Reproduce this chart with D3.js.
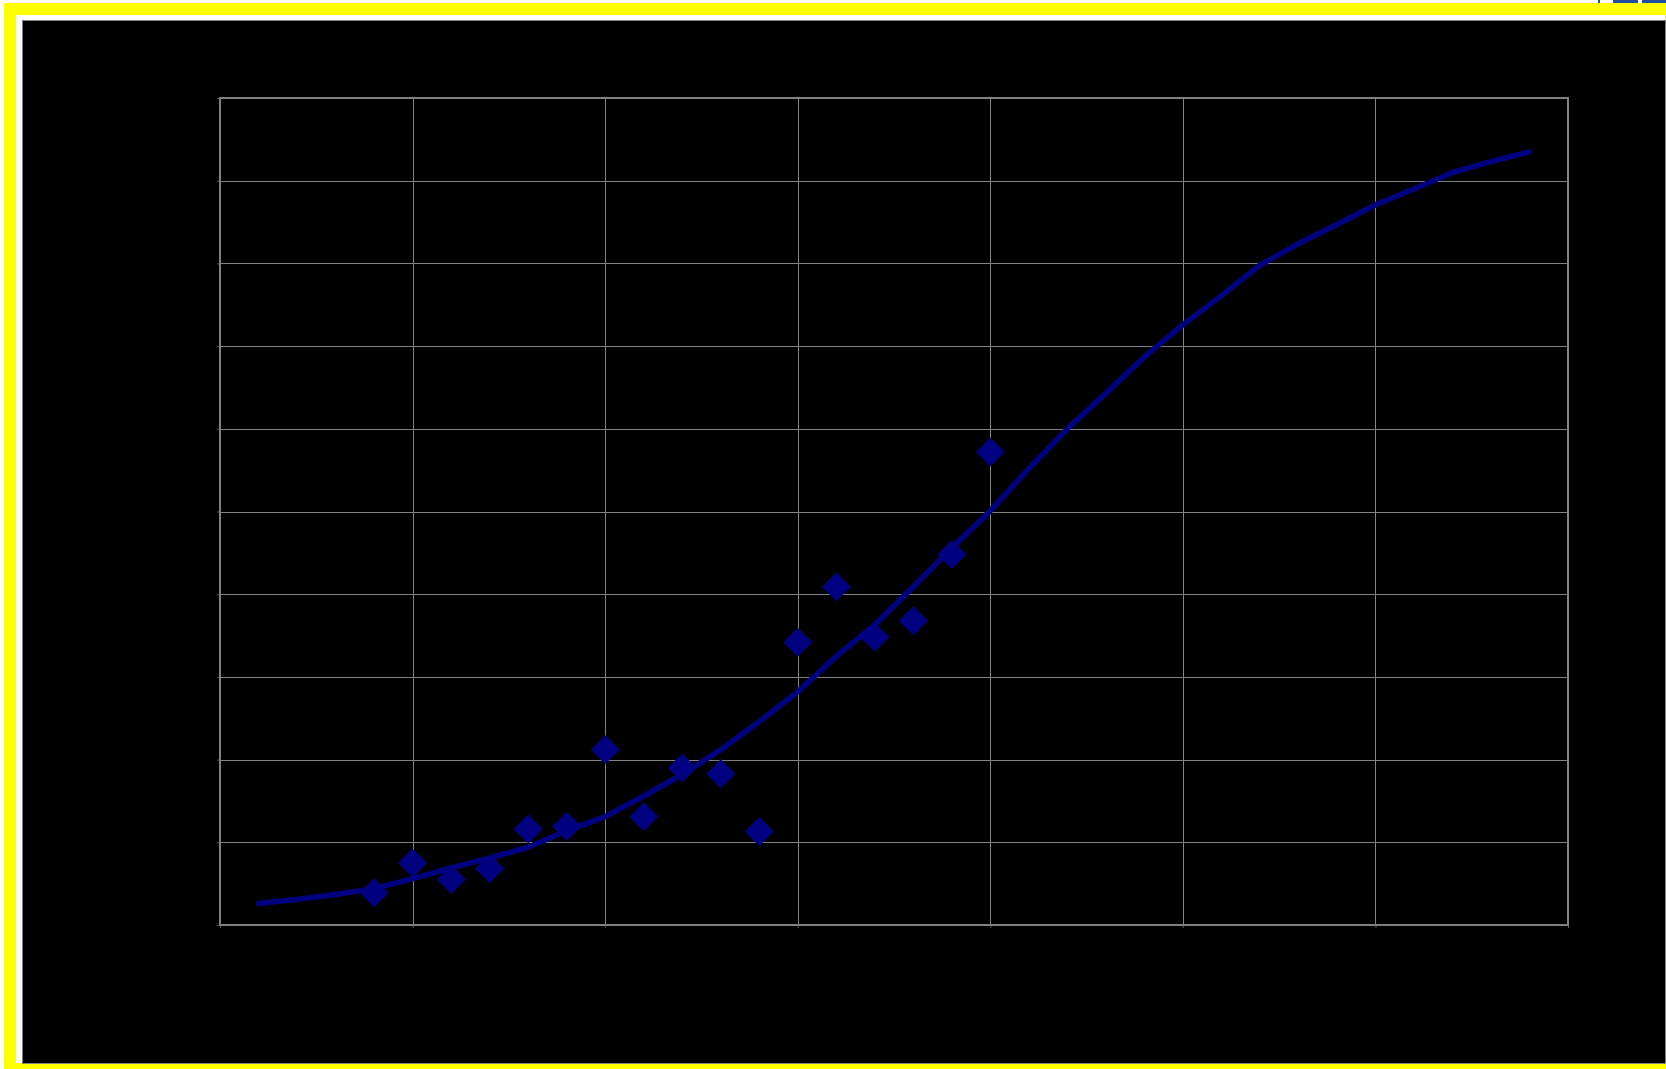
<!DOCTYPE html>
<html>
<head>
<meta charset="utf-8">
<script src="https://cdn.jsdelivr.net/npm/d3@7"></script>
<style>
  html, body { margin: 0; padding: 0; background: #ffffff; }
  svg { display: block; }
</style>
</head>
<body>
<svg id="chart" width="1666" height="1069"></svg>
<script>
// Observed measurements (x) and their values
const obsX = [4, 5, 6, 7, 8, 9, 10, 11, 12, 13, 14, 15, 16, 17, 18, 19, 20];
const obsY = [0.39, 0.75, 0.55, 0.68, 1.16, 1.19, 2.12, 1.31, 1.90, 1.83, 1.13, 3.42, 4.09, 3.48, 3.68, 4.48, 5.72];

// Fitted curve, evaluated at whole-number x
const fitX = [1, 2, 3, 4, 5, 6, 7, 8, 9, 10, 11, 12, 13, 14, 15, 16, 17,
              18, 19, 20, 21, 22, 23, 24, 25, 26, 27, 28, 29, 30, 31, 32, 33, 34];
const fitY = [0.26, 0.31, 0.37, 0.44, 0.56, 0.69, 0.81, 0.94, 1.14, 1.31, 1.56, 1.82, 2.12, 2.46, 2.82, 3.25, 3.63,
              4.09, 4.56, 5.01, 5.52, 6.00, 6.43, 6.87, 7.26, 7.61, 7.98, 8.24, 8.47, 8.71, 8.90, 9.10, 9.23, 9.35];

// Grid positions
const xTicks = [0, 5, 10, 15, 20, 25, 30, 35];
const yTicks = [0, 1, 2, 3, 4, 5, 6, 7, 8, 9, 10];

const svg = d3.select("#chart");
const W = 1666, H = 1069;

// Outer frame: yellow band, white gap, black chart area
svg.append("rect").attr("x", 0).attr("y", 0).attr("width", W).attr("height", H).attr("fill", "#ffffff");
svg.append("rect").attr("x", 4).attr("y", 3).attr("width", W - 4).attr("height", H - 3).attr("fill", "#ffff00");
svg.append("rect").attr("x", 16).attr("y", 15).attr("width", 1649).attr("height", 1048).attr("fill", "#ffffff");
svg.append("rect").attr("x", 22.5).attr("y", 20.5).attr("width", 1643).attr("height", 1043)
  .attr("fill", "#000000").attr("stroke", "#7f7f7f").attr("stroke-width", 1);

// Small blue icon fragment peeking at the top-right corner
const icon = svg.append("g").attr("fill", "#1f4fa0");
icon.append("rect").attr("x", 1598).attr("y", 0).attr("width", 2).attr("height", 3);
icon.append("rect").attr("x", 1613).attr("y", 0).attr("width", 25).attr("height", 3);
icon.append("rect").attr("x", 1642).attr("y", 0).attr("width", 24).attr("height", 3);

// Plot area
const plot = { left: 220, right: 1568, top: 98, bottom: 925 };
const x = d3.scaleLinear().domain([0, 35]).range([plot.left, plot.right]);
const y = d3.scaleLinear().domain([0, 10]).range([plot.bottom, plot.top]);

// Gridlines
const grid = svg.append("g").attr("stroke", "#808080").attr("stroke-width", 1).attr("shape-rendering", "crispEdges");
grid.selectAll("line.v").data(xTicks).join("line").attr("class", "v")
  .attr("x1", d => Math.round(x(d)) + 0.5).attr("x2", d => Math.round(x(d)) + 0.5)
  .attr("y1", plot.top).attr("y2", plot.bottom);
grid.selectAll("line.h").data(yTicks).join("line").attr("class", "h")
  .attr("y1", d => Math.round(y(d)) + 0.5).attr("y2", d => Math.round(y(d)) + 0.5)
  .attr("x1", plot.left).attr("x2", plot.right);

// Axes with short tick marks and no labels
svg.append("g").attr("transform", `translate(0,${plot.bottom})`)
  .call(d3.axisBottom(x).tickValues(xTicks).tickSize(3).tickFormat(""))
  .call(g => g.select(".domain").remove())
  .call(g => g.selectAll(".tick line").attr("stroke", "#555"));
svg.append("g").attr("transform", `translate(${plot.left},0)`)
  .call(d3.axisLeft(y).tickValues(yTicks).tickSize(3).tickFormat(""))
  .call(g => g.select(".domain").remove())
  .call(g => g.selectAll(".tick line").attr("stroke", "#555"));

// Plot border
svg.append("rect")
  .attr("x", plot.left).attr("y", plot.top)
  .attr("width", plot.right - plot.left).attr("height", plot.bottom - plot.top)
  .attr("fill", "none").attr("stroke", "#808080").attr("stroke-width", 2);

// Fitted curve
const fit = fitX.map((d, i) => [d, fitY[i]]);
svg.append("path")
  .datum(fit)
  .attr("fill", "none")
  .attr("stroke", "#000080")
  .attr("stroke-width", 5.5)
  .attr("stroke-linecap", "round")
  .attr("stroke-linejoin", "round")
  .attr("d", d3.line().x(d => x(d[0])).y(d => y(d[1])));

// Observation markers (diamonds)
const obs = obsX.map((d, i) => [d, obsY[i]]);
const diamond = d3.symbol().type(d3.symbolSquare).size(420);
svg.append("g").selectAll("path")
  .data(obs)
  .join("path")
  .attr("d", diamond)
  .attr("fill", "#000080")
  .attr("transform", d => `translate(${x(d[0])},${y(d[1])}) rotate(45)`);
</script>
</body>
</html>
